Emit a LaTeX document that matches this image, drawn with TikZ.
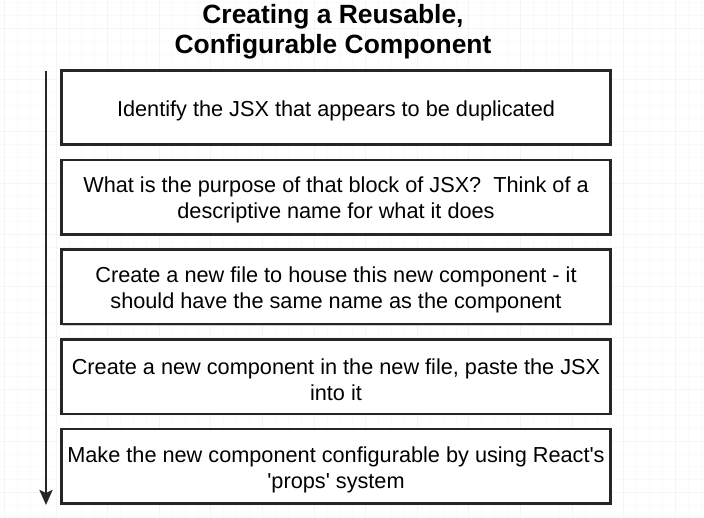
\documentclass[tikz,border=0pt]{standalone}
\usepackage{fontspec}
\newfontfamily\boxfont{Liberation Sans}
\usetikzlibrary{positioning, shadows, arrows.meta}

\newcommand{\boxstrut}{\rule{0pt}{22pt}}

\tikzset{
	stepbox/.style={draw=black!85, line width=2.6pt, fill=white, minimum width=549.5pt, minimum height=74.5pt, inner sep=0pt, outer sep=0pt, align=center,
		font=\boxfont\fontsize{21.7}{26}\selectfont,
		drop shadow={shadow xshift=1.6pt, shadow yshift=-1.6pt, opacity=0.35, fill=black!60}},
	titletext/.style={inner sep=0pt, align=center, font=\boxfont\bfseries\fontsize{26.4}{30}\selectfont},
	minorgrid/.style={draw=black!2, line width=0.4pt},
	majorgrid/.style={draw=black!4, line width=0.5pt}
}

\begin{document}
\begin{tikzpicture}[node distance=15.2pt]
		\useasboundingbox (0,0) rectangle (704pt,-518pt);
		\fill[white] (0,0) rectangle (704pt,-518pt);
		% faint grid of the canvas
		\begin{scope}
			\clip (0,0) rectangle (704pt,-518pt);
			\begin{scope}[shift={(4.2pt,-28pt)}]
				\draw[minorgrid, step=12.9pt] (-20pt,40pt) grid (710pt,-500pt);
				\draw[majorgrid, step=51.6pt] (-60pt,60pt) grid (720pt,-520pt);
			\end{scope}
		\end{scope}
		
		\node[titletext] (title) at (333pt,-31.5pt) {Creating a Reusable,\\Configurable Component};
		
		\node[stepbox] (s1) at (336pt,-107.5pt) {\boxstrut Identify the JSX that appears to be duplicated};
		\node[stepbox, below=of s1] (s2) {\boxstrut What is the purpose of that block of JSX?\ \ Think of a\\descriptive name for what it does};
		\node[stepbox, below=of s2] (s3) {\boxstrut Create a new file to house this new component - it\\should have the same name as the component};
		\node[stepbox, below=of s3] (s4) {\boxstrut Create a new component in the new file, paste the JSX\\into it};
		\node[stepbox, below=of s4] (s5) {\boxstrut Make the new component configurable by using React's\\'props' system};
		
		\coordinate (flowtop) at (46pt,-71pt);
		\coordinate (flowend) at (46pt,-505pt);
		\draw[line width=2.6pt, draw=black!85, -{Stealth[length=15pt, width=13pt, inset=3pt]}] (flowtop) -- (flowend);
	\end{tikzpicture}
\end{document}
